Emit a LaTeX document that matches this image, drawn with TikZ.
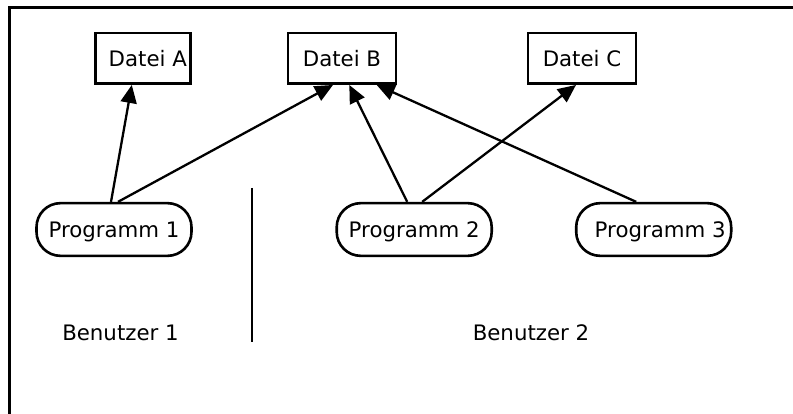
\documentclass[tikz,border=0pt]{standalone}
\usepackage{fontspec}
\setmainfont{DejaVu Sans}
\usetikzlibrary{arrows.meta}
\begin{document}
\begin{tikzpicture}[x=1pt,y=-1pt,
  every node/.style={font=\fontsize{21.3pt}{25pt}\selectfont, inner sep=0pt,
    text height=15.5pt, text depth=0pt},
  filebox/.style={draw, line width=2.6pt, minimum width=#1, minimum height=50.7pt},
  progbox/.style={draw, line width=2.6pt, rounded corners=24pt,
    minimum width=155pt, minimum height=52.7pt},
  link/.style={line width=2.3pt, -{Triangle[length=18pt,width=16pt]}},
  rule/.style={line width=2.3pt}]
\useasboundingbox (0,0) rectangle (793,414);

% frame (open towards the right and the bottom)
\coordinate (f1) at (9.5,414);
\coordinate (f2) at (9.5,7.5);
\coordinate (f3) at (793,7.5);
\draw[line width=2.8pt] (f1) -- (f2) -- (f3);

% files
\node[filebox=95pt]  (A) at (142.8,58.3) {\hspace*{10pt}Datei A};
\node[filebox=108pt] (B) at (342,58.3)   {Datei B};
\node[filebox=108pt] (C) at (582,58.3)   {Datei C};

% programs
\node[progbox] (P1) at (114,229.5)   {Programm 1};
\node[progbox] (P2) at (414.2,229.5) {Programm 2};
\node[progbox] (P3) at (653.7,229.5) {\hspace*{13pt}Programm 3};

% users and the dividing line
\node[anchor=base] (U1) at (120.5,340.7) {Benutzer 1};
\node[anchor=base] (U2) at (531,340.7)   {Benutzer 2};
\coordinate (d1) at (252.3,188);
\coordinate (d2) at (252.3,342);
\draw[rule] (d1) -- (d2);

% accesses
\draw[link] ([xshift=-3pt]P1.north)    -- ([xshift=-11pt]A.south);
\draw[link] ([xshift=4pt]P1.north)     -- ([xshift=-9pt]B.south);
\draw[link] ([xshift=-7pt]P2.north)    -- ([xshift=7.3pt]B.south);
\draw[link] ([xshift=8pt]P2.north)     -- ([xshift=-6pt]C.south);
\draw[link] ([xshift=-17.5pt]P3.north) -- ([xshift=34.7pt]B.south);
\end{tikzpicture}
\end{document}
